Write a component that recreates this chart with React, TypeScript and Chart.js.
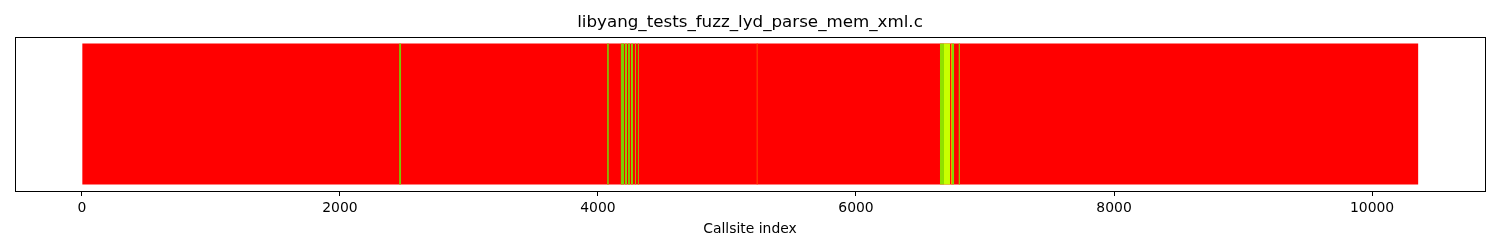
import React, { useEffect, useRef } from "react";
import { Chart, registerables } from "chart.js";

Chart.register(...registerables);

const chartTitle = "libyang_tests_fuzz_lyd_parse_mem_xml.c";
const axisTitle = "Callsite index";
const totalCallsites = 10357;
const tickValues = [0, 2000, 4000, 6000, 8000, 10000];

// covered (green) callsite ranges drawn over the uncovered (red) background
const segStarts = [2459, 4070, 4178, 4209, 4233, 4256, 4287, 4310, 5230, 6651, 6682, 6736, 6744, 6796];
const segEnds = [2474, 4085, 4202, 4225, 4248, 4271, 4295, 4318, 5238, 6682, 6729, 6744, 6760, 6806];
const segColors = [
  "#7cc800", "#8fb000", "#7cd000", "#86d400", "#7ccf00", "#86d400", "#90c800", "#90b800",
  "#ff4a00", "#8fe000", "#c8ff00", "#ff9900", "#80d800", "#90c000",
];

const boxPlugin = {
  id: "box",
  afterDraw(chart: any) {
    const { ctx, chartArea } = chart;
    ctx.save();
    ctx.strokeStyle = "#000";
    ctx.lineWidth = 1;
    ctx.strokeRect(
      Math.round(chartArea.left) + 0.5,
      Math.round(chartArea.top) + 0.5,
      Math.round(chartArea.right - chartArea.left),
      Math.round(chartArea.bottom - chartArea.top)
    );
    ctx.restore();
  },
};

export default function App() {
  const ref = useRef<HTMLCanvasElement | null>(null);

  useEffect(() => {
    document.body.style.margin = "0";
    const datasets: any[] = segStarts.map((s, i) => ({
      data: [[s, segEnds[i]]],
      backgroundColor: segColors[i],
      borderWidth: 0,
      grouped: false,
      categoryPercentage: 1,
      barPercentage: 0.915,
    }));
    datasets.push({
      data: [[0, totalCallsites]],
      backgroundColor: "#ff0000",
      borderWidth: 0,
      grouped: false,
      categoryPercentage: 1,
      barPercentage: 0.915,
    });
    const font = "'DejaVu Sans', sans-serif";
    const chart = new Chart(ref.current!, {
      type: "bar",
      data: { labels: ["callsites"], datasets },
      options: {
        indexAxis: "y",
        animation: false,
        responsive: false,
        layout: { padding: { left: 15, right: 15, top: 0, bottom: 0 } },
        plugins: {
          legend: { display: false },
          tooltip: { enabled: false },
          title: {
            display: true,
            text: chartTitle,
            color: "#000",
            font: { family: font, size: 16.7, weight: "normal" },
            padding: { top: 13, bottom: 4 },
          },
        },
        scales: {
          x: {
            type: "linear",
            min: -518,
            max: 10875,
            afterBuildTicks(scale: any) {
              scale.ticks = tickValues.map((v) => ({ value: v }));
            },
            afterFit(scale: any) {
              scale.height = 59;
            },
            grid: {
              drawOnChartArea: false,
              drawTicks: true,
              tickLength: 5,
              color: "#000",
            },
            border: { display: false },
            ticks: {
              color: "#000",
              font: { family: font, size: 13.9 },
              padding: 4,
              maxRotation: 0,
              autoSkip: false,
              callback: (v: any) => String(v),
            },
            title: {
              display: true,
              text: axisTitle,
              color: "#000",
              font: { family: font, size: 13.9 },
              padding: { top: 4, bottom: 12 },
            },
          },
          y: {
            display: false,
          },
        },
      },
      plugins: [boxPlugin],
    });
    return () => chart.destroy();
  }, []);

  return <canvas ref={ref} width={1500} height={250} style={{ display: "block" }} />;
}
